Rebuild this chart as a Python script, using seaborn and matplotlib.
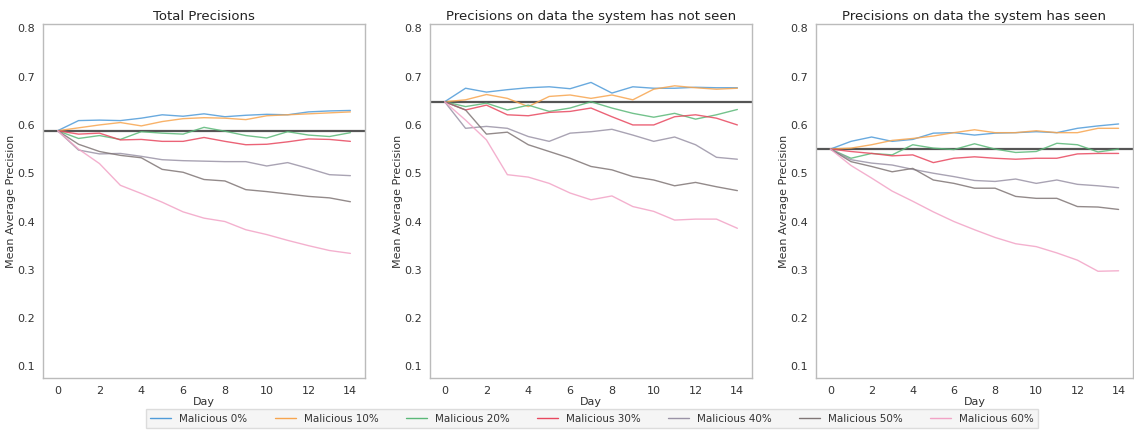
import numpy as np
import pandas as pd
import matplotlib
matplotlib.use("Agg")
import matplotlib.pyplot as plt
import seaborn as sns


sns.set_style("white")
plt.rcParams["font.family"] = ["DejaVu Sans"]

days = list(range(15))
levels = ["Malicious 0%", "Malicious 10%", "Malicious 20%", "Malicious 30%",
          "Malicious 40%", "Malicious 50%", "Malicious 60%"]
colors = ["#4f9bd9", "#f7a54f", "#5bb878", "#e8485f",
          "#9a93a6", "#807676", "#f2a3c6"]
titles = ["Total Precisions",
          "Precisions on data the system has not seen",
          "Precisions on data the system has seen"]
baselines = [0.588, 0.648, 0.550]

# values, one list per malicious share
total = {
    "Malicious 0%":  [0.588, 0.609, 0.610, 0.609, 0.614, 0.621, 0.618, 0.623, 0.617, 0.620, 0.622, 0.621, 0.627, 0.629, 0.630],
    "Malicious 10%": [0.588, 0.594, 0.600, 0.605, 0.598, 0.607, 0.613, 0.615, 0.614, 0.611, 0.619, 0.621, 0.623, 0.625, 0.627],
    "Malicious 20%": [0.588, 0.572, 0.578, 0.570, 0.586, 0.583, 0.581, 0.595, 0.587, 0.578, 0.573, 0.586, 0.579, 0.576, 0.584],
    "Malicious 30%": [0.588, 0.581, 0.583, 0.569, 0.570, 0.566, 0.566, 0.574, 0.566, 0.559, 0.560, 0.565, 0.571, 0.570, 0.566],
    "Malicious 40%": [0.588, 0.548, 0.540, 0.541, 0.535, 0.528, 0.526, 0.525, 0.524, 0.524, 0.515, 0.522, 0.510, 0.497, 0.495],
    "Malicious 50%": [0.588, 0.560, 0.545, 0.537, 0.532, 0.508, 0.502, 0.487, 0.484, 0.466, 0.462, 0.457, 0.452, 0.449, 0.441],
    "Malicious 60%": [0.588, 0.550, 0.520, 0.475, 0.458, 0.440, 0.420, 0.407, 0.400, 0.383, 0.373, 0.361, 0.350, 0.340, 0.334],
}
unseen = {
    "Malicious 0%":  [0.648, 0.676, 0.668, 0.673, 0.677, 0.679, 0.675, 0.688, 0.666, 0.679, 0.676, 0.676, 0.678, 0.677, 0.677],
    "Malicious 10%": [0.648, 0.652, 0.663, 0.655, 0.638, 0.659, 0.662, 0.655, 0.662, 0.652, 0.674, 0.681, 0.677, 0.674, 0.676],
    "Malicious 20%": [0.648, 0.638, 0.645, 0.631, 0.641, 0.628, 0.635, 0.648, 0.635, 0.624, 0.616, 0.624, 0.612, 0.621, 0.632],
    "Malicious 30%": [0.648, 0.631, 0.641, 0.621, 0.619, 0.626, 0.628, 0.635, 0.617, 0.600, 0.600, 0.617, 0.621, 0.614, 0.600],
    "Malicious 40%": [0.648, 0.593, 0.597, 0.593, 0.576, 0.566, 0.583, 0.586, 0.591, 0.579, 0.566, 0.575, 0.559, 0.533, 0.529],
    "Malicious 50%": [0.648, 0.631, 0.581, 0.585, 0.559, 0.545, 0.531, 0.514, 0.507, 0.493, 0.486, 0.474, 0.481, 0.472, 0.464],
    "Malicious 60%": [0.648, 0.610, 0.569, 0.497, 0.492, 0.479, 0.459, 0.445, 0.453, 0.431, 0.421, 0.403, 0.405, 0.405, 0.386],
}
seen = {
    "Malicious 0%":  [0.550, 0.566, 0.575, 0.566, 0.570, 0.583, 0.584, 0.579, 0.583, 0.584, 0.586, 0.584, 0.593, 0.598, 0.602],
    "Malicious 10%": [0.550, 0.552, 0.559, 0.568, 0.572, 0.577, 0.584, 0.590, 0.584, 0.584, 0.588, 0.584, 0.584, 0.593, 0.593],
    "Malicious 20%": [0.550, 0.531, 0.541, 0.538, 0.559, 0.552, 0.549, 0.561, 0.550, 0.543, 0.545, 0.562, 0.559, 0.544, 0.550],
    "Malicious 30%": [0.550, 0.545, 0.541, 0.536, 0.538, 0.522, 0.531, 0.534, 0.531, 0.529, 0.531, 0.531, 0.540, 0.541, 0.541],
    "Malicious 40%": [0.550, 0.528, 0.521, 0.517, 0.508, 0.500, 0.493, 0.485, 0.483, 0.488, 0.479, 0.486, 0.477, 0.474, 0.470],
    "Malicious 50%": [0.550, 0.524, 0.514, 0.503, 0.510, 0.486, 0.479, 0.469, 0.469, 0.452, 0.448, 0.448, 0.431, 0.430, 0.425],
    "Malicious 60%": [0.550, 0.516, 0.490, 0.463, 0.442, 0.420, 0.400, 0.383, 0.367, 0.354, 0.348, 0.335, 0.320, 0.297, 0.298],
}


def to_long(panel):
    rows = []
    for name in levels:
        for d, v in zip(days, panel[name]):
            rows.append({"Day": d, "Mean Average Precision": v, "Malicious": name})
    return pd.DataFrame(rows)


W, H = 1134, 433
fig = plt.figure(figsize=(W / 100, H / 100), dpi=100)
lefts = [43, 430, 816]
widths = [322, 322, 317]
bottom, top = 378, 24

for i, panel in enumerate([total, unseen, seen]):
    ax = fig.add_axes([lefts[i] / W, 1 - bottom / H, widths[i] / W, (bottom - top) / H])
    df = to_long(panel)
    sns.lineplot(data=df, x="Day", y="Mean Average Precision", hue="Malicious",
                 hue_order=levels, palette=colors, linewidth=1.0, alpha=0.85,
                 ax=ax, legend=False)
    ax.axhline(baselines[i], color="#555555", linewidth=1.6, zorder=1)
    ax.set_xlim(-0.7, 14.7)
    ax.set_ylim(0.076, 0.809)
    ax.set_xticks(range(0, 15, 2))
    ax.set_yticks(np.arange(0.1, 0.81, 0.1))
    ax.set_yticklabels([f"{t:.1f}" for t in np.arange(0.1, 0.81, 0.1)])
    ax.set_title(titles[i], fontsize=9.5, color="#222222", pad=3)
    ax.set_xlabel("Day", fontsize=8, color="#333333", labelpad=1)
    ax.set_ylabel("Mean Average Precision", fontsize=8, color="#333333", labelpad=1)
    ax.tick_params(labelsize=8, colors="#333333", pad=2)
    for s in ax.spines.values():
        s.set_color("#bbbbbb")
        s.set_linewidth(1.0)

handles = [plt.Line2D([], [], color=c, linewidth=1.0) for c in colors]
fig.legend(handles, levels, loc="lower center", ncol=7, fontsize=7.5,
           bbox_to_anchor=(0.522, 0.0), frameon=True, facecolor="#f3f3f3",
           edgecolor="#d5d5d5", columnspacing=2.6, handlelength=2.0,
           borderpad=0.4, labelcolor="#333333", fancybox=False)

fig.savefig("out.png", dpi=100)
